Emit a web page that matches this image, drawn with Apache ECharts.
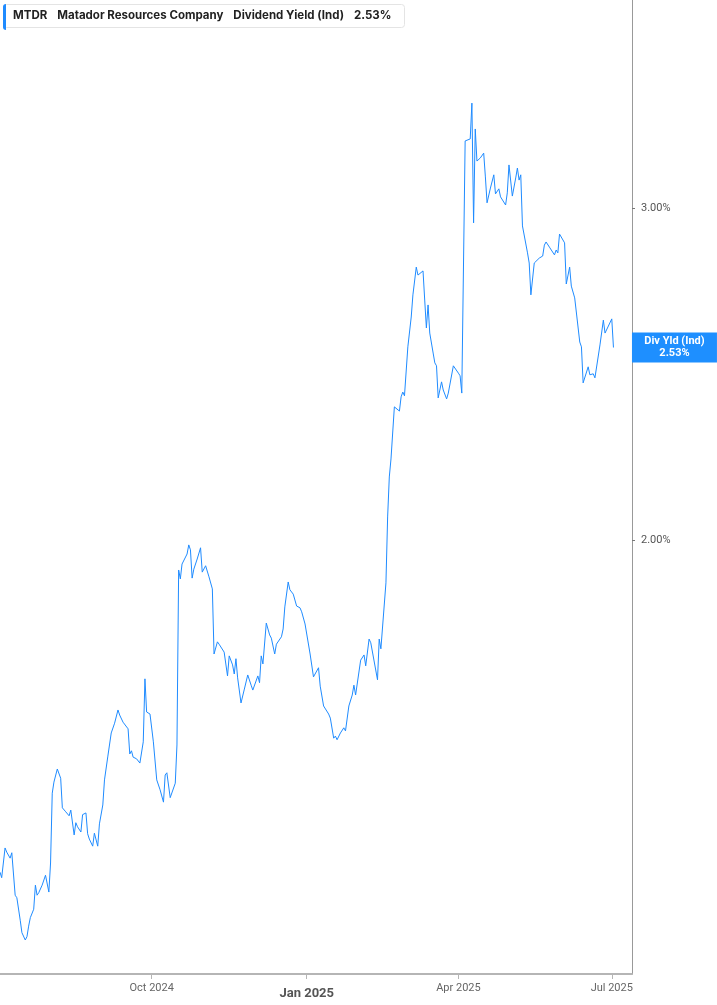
<!DOCTYPE html>
<html>
<head>
<meta charset="utf-8">
<script src="https://cdn.jsdelivr.net/npm/echarts@6/dist/echarts.min.js"></script>
<style>
  html, body { margin: 0; padding: 0; background: #fff; }
  #main { width: 717px; height: 1005px; }
</style>
</head>
<body>
<div id="main"></div>
<script>
// MTDR dividend yield (indicated)
var dates = [
  '2024-07-03','2024-07-04','2024-07-06','2024-07-07','2024-07-09','2024-07-10','2024-07-12','2024-07-13',
  '2024-07-15','2024-07-16','2024-07-18','2024-07-19','2024-07-20','2024-07-21','2024-07-23','2024-07-24',
  '2024-07-25','2024-07-26','2024-07-28','2024-07-30','2024-07-31','2024-08-01','2024-08-02','2024-08-03',
  '2024-08-04','2024-08-06','2024-08-08','2024-08-09','2024-08-11','2024-08-13','2024-08-14','2024-08-15',
  '2024-08-16','2024-08-17','2024-08-18','2024-08-20','2024-08-21','2024-08-22','2024-08-23','2024-08-24',
  '2024-08-25','2024-08-27','2024-08-28','2024-08-29','2024-08-30','2024-08-31','2024-09-02','2024-09-03',
  '2024-09-05','2024-09-07','2024-09-09','2024-09-11','2024-09-12','2024-09-14','2024-09-17','2024-09-18',
  '2024-09-19','2024-09-20','2024-09-22','2024-09-24','2024-09-26','2024-09-27','2024-09-28','2024-09-30',
  '2024-10-02','2024-10-04','2024-10-06','2024-10-08','2024-10-09','2024-10-10','2024-10-12','2024-10-15',
  '2024-10-16','2024-10-17','2024-10-18','2024-10-19','2024-10-22','2024-10-23','2024-10-24','2024-10-25',
  '2024-10-26','2024-10-28','2024-10-30','2024-10-31','2024-11-01','2024-11-02','2024-11-04','2024-11-06',
  '2024-11-07','2024-11-09','2024-11-10','2024-11-13','2024-11-15','2024-11-16','2024-11-18','2024-11-19',
  '2024-11-20','2024-11-21','2024-11-23','2024-11-25','2024-11-27','2024-11-29','2024-11-30','2024-12-03',
  '2024-12-04','2024-12-05','2024-12-06','2024-12-08','2024-12-10','2024-12-11','2024-12-13','2024-12-14',
  '2024-12-17','2024-12-18','2024-12-19','2024-12-21','2024-12-22','2024-12-24','2024-12-26','2024-12-28',
  '2024-12-29','2024-12-31','2025-01-03','2025-01-05','2025-01-08','2025-01-09','2025-01-11','2025-01-14',
  '2025-01-15','2025-01-17','2025-01-18','2025-01-19','2025-01-21','2025-01-23','2025-01-24','2025-01-26',
  '2025-01-28','2025-01-29','2025-01-30','2025-01-31','2025-02-02','2025-02-04','2025-02-05','2025-02-07',
  '2025-02-08','2025-02-12','2025-02-13','2025-02-14','2025-02-15','2025-02-17','2025-02-18','2025-02-19',
  '2025-02-20','2025-02-21','2025-02-22','2025-02-23','2025-02-25','2025-02-26','2025-02-27','2025-02-28',
  '2025-03-01','2025-03-02','2025-03-04','2025-03-05','2025-03-07','2025-03-08','2025-03-11','2025-03-12',
  '2025-03-13','2025-03-14','2025-03-15','2025-03-17','2025-03-18','2025-03-19','2025-03-20','2025-03-22',
  '2025-03-23','2025-03-25','2025-03-26','2025-03-27','2025-03-29','2025-04-01','2025-04-02','2025-04-03',
  '2025-04-05','2025-04-08','2025-04-09','2025-04-10','2025-04-11','2025-04-12','2025-04-14','2025-04-16',
  '2025-04-17','2025-04-18','2025-04-20','2025-04-22','2025-04-23','2025-04-25','2025-04-26','2025-04-29',
  '2025-04-30','2025-05-01','2025-05-03','2025-05-05','2025-05-06','2025-05-07','2025-05-08','2025-05-09',
  '2025-05-10','2025-05-12','2025-05-13','2025-05-14','2025-05-16','2025-05-19','2025-05-21','2025-05-22',
  '2025-05-23','2025-05-25','2025-05-28','2025-05-29','2025-05-30','2025-05-31','2025-06-03','2025-06-04',
  '2025-06-06','2025-06-07','2025-06-09','2025-06-12','2025-06-13','2025-06-14','2025-06-17','2025-06-18',
  '2025-06-20','2025-06-21','2025-06-24','2025-06-26','2025-06-27','2025-07-01','2025-07-02'
];
var yields = [
  1.333,1.324,1.373,1.366,1.356,1.365,1.296,1.292,
  1.257,1.238,1.227,1.232,1.248,1.261,1.274,1.312,
  1.296,1.300,1.312,1.328,1.325,1.301,1.348,1.468,
  1.488,1.512,1.495,1.442,1.435,1.428,1.438,1.438,
  1.395,1.416,1.409,1.400,1.430,1.433,1.433,1.397,
  1.388,1.376,1.398,1.395,1.376,1.414,1.447,1.492,
  1.536,1.580,1.599,1.625,1.615,1.601,1.588,1.540,
  1.546,1.534,1.531,1.523,1.563,1.688,1.621,1.617,
  1.563,1.492,1.474,1.452,1.501,1.505,1.460,1.486,
  1.557,1.928,1.907,1.942,1.966,1.988,1.976,1.909,
  1.930,1.954,1.981,1.923,1.919,1.938,1.912,1.884,
  1.740,1.766,1.761,1.744,1.694,1.736,1.717,1.698,
  1.730,1.690,1.639,1.667,1.696,1.675,1.665,1.694,
  1.680,1.736,1.719,1.807,1.781,1.774,1.740,1.761,
  1.777,1.794,1.843,1.900,1.882,1.872,1.845,1.841,
  1.832,1.805,1.740,1.692,1.711,1.673,1.633,1.617,
  1.609,1.570,1.574,1.567,1.580,1.590,1.584,1.633,
  1.655,1.675,1.655,1.659,1.727,1.738,1.715,1.772,
  1.764,1.686,1.772,1.751,1.751,1.898,2.057,2.160,
  2.208,2.211,2.353,2.350,2.341,2.382,2.396,2.385,
  2.390,2.532,2.626,2.698,2.791,2.764,2.778,2.681,
  2.591,2.665,2.575,2.513,2.483,2.474,2.379,2.426,
  2.402,2.376,2.393,2.396,2.474,2.452,2.444,2.393,
  3.256,3.264,3.410,2.946,3.304,3.177,3.189,3.208,
  3.116,3.019,3.074,3.124,3.052,3.071,3.041,3.011,
  3.056,3.162,3.044,3.112,3.150,3.104,3.124,2.935,
  2.928,2.840,2.805,2.698,2.805,2.822,2.829,2.867,
  2.878,2.860,2.833,2.850,2.840,2.906,2.875,2.734,
  2.791,2.727,2.688,2.547,2.532,2.423,2.471,2.447,
  2.450,2.438,2.538,2.616,2.575,2.620,2.530
];
var xTicks = ['2024-10-01', '2025-01-01', '2025-04-01', '2025-07-01'];
var yTicks = [2, 3];
var monthNames = ['Jan','Feb','Mar','Apr','May','Jun','Jul','Aug','Sep','Oct','Nov','Dec'];

function ts(s) { return new Date(s + 'T00:00:00').getTime(); }

var lineColor = '#1f8bff';
var seriesData = dates.map(function (d, i) { return [ts(d), yields[i]]; });
var xTickValues = xTicks.map(ts);
var last = yields[yields.length - 1];

var myChart = echarts.init(document.getElementById('main'));
var option = {
  animation: false,
  backgroundColor: '#ffffff',
  textStyle: { fontFamily: 'Inter' },
  title: {
    left: 3,
    top: 4,
    padding: [6, 13, 6, 10],
    backgroundColor: '#ffffff',
    borderColor: '#e4e4e4',
    borderWidth: 1,
    borderRadius: 3,
    text: '{b|MTDR}{bg|Matador Resources Company}{ng|Dividend Yield (Ind)}{bg|' + last.toFixed(2) + '%}',
    textStyle: {
      rich: {
        b: { fontFamily: 'Inter', fontSize: 11.5, fontWeight: 'bold', color: '#222' },
        bg: { fontFamily: 'Inter', fontSize: 11.5, fontWeight: 'bold', color: '#222', padding: [0, 0, 0, 10] },
        ng: { fontFamily: 'Inter', fontSize: 11.5, color: '#222', padding: [0, 0, 0, 10] }
      }
    }
  },
  graphic: [
    { type: 'rect', left: 3, top: 4, z: 100, shape: { width: 3, height: 26, r: [3, 0, 0, 3] }, style: { fill: lineColor } }
  ],
  grid: { left: 0, right: 85, top: 0, bottom: 31 },
  xAxis: {
    type: 'value',
    min: ts('2024-07-03'),
    max: ts('2025-07-13'),
    axisLine: { show: true, lineStyle: { color: '#b5b5b5', width: 2 } },
    axisTick: { show: true, customValues: xTickValues, length: 5, lineStyle: { color: '#b5b5b5' } },
    splitLine: { show: false },
    axisLabel: {
      customValues: xTickValues,
      margin: 9,
      color: '#666',
      fontFamily: 'Roboto',
      fontSize: 11,
      formatter: function (v) {
        var d = new Date(v);
        var s = monthNames[d.getMonth()] + ' ' + d.getFullYear();
        return d.getMonth() === 0 ? '{y|' + s + '}' : s;
      },
      rich: {
        y: { fontFamily: 'Roboto', fontSize: 13, fontWeight: 'bold', color: '#555', padding: [4, 0, 0, 0] }
      }
    }
  },
  yAxis: {
    type: 'log',
    logBase: 10,
    position: 'right',
    min: 1.1771,
    max: 3.8676,
    axisLine: { show: true, lineStyle: { color: '#999', width: 1 } },
    axisTick: { show: true, customValues: yTicks, length: 3, lineStyle: { color: '#777' } },
    splitLine: { show: false },
    axisLabel: {
      customValues: yTicks,
      margin: 9,
      color: '#555',
      fontFamily: 'Roboto',
      fontSize: 11,
      formatter: function (v) { return v.toFixed(2) + '%'; }
    }
  },
  series: [
    {
      type: 'line',
      data: seriesData,
      symbol: 'none',
      lineStyle: { color: lineColor, width: 1 },
      itemStyle: { color: lineColor },
      endLabel: {
        show: true,
        align: 'center',
        distance: 61,
        width: 71,
        padding: [3, 7, 3, 7],
        backgroundColor: '#1e8fff',
        color: '#fff',
        fontFamily: 'Roboto',
        fontWeight: 'bold',
        fontSize: 11,
        lineHeight: 12,
        formatter: function (p) { return 'Div Yld (Ind)\n' + p.value[1].toFixed(2) + '%'; }
      }
    }
  ]
};
myChart.setOption(option);
</script>
</body>
</html>
